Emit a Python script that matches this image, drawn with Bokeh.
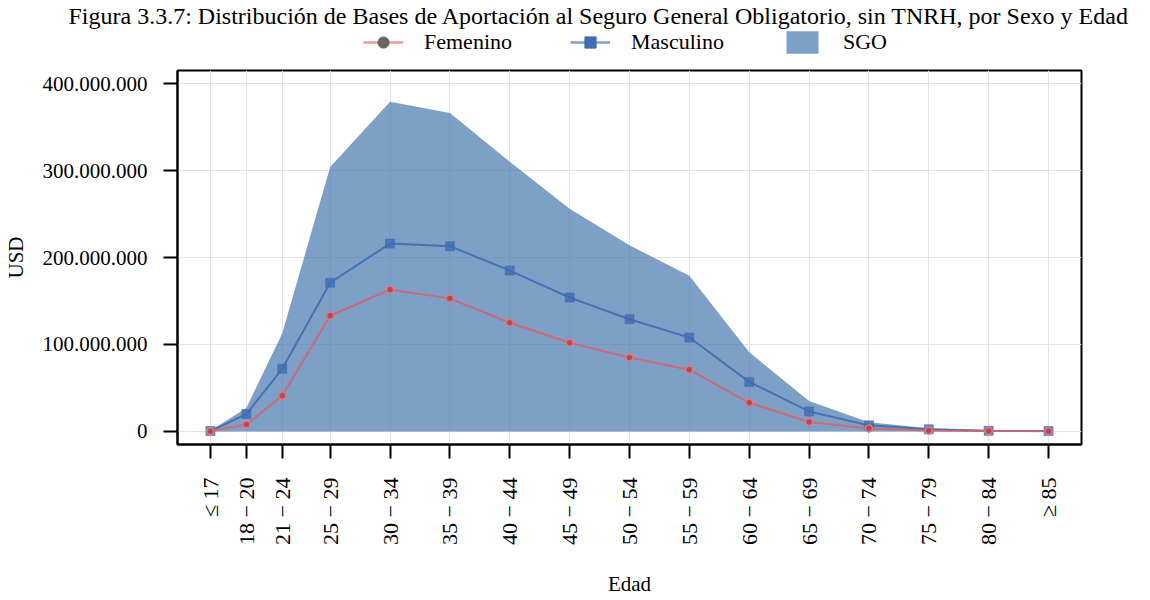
from math import pi
from bokeh.plotting import figure
from bokeh.layouts import column
from bokeh.models import FixedTicker, Range1d, Legend, LegendItem, Title
from bokeh.embed import file_html
from bokeh.resources import INLINE

# ---- data -------------------------------------------------------------
ages = [15, 18, 21, 25, 30, 35, 40, 45, 50, 55, 60, 65, 70, 75, 80, 85]
age_labels = ["≤ 17", "18 − 20", "21 − 24", "25 − 29", "30 − 34", "35 − 39",
              "40 − 44", "45 − 49", "50 − 54", "55 − 59", "60 − 64", "65 − 69",
              "70 − 74", "75 − 79", "80 − 84", "≥ 85"]
femenino = [0.3e6, 8e6, 41e6, 133e6, 163e6, 153e6, 125e6, 102e6, 85e6, 71e6,
            33e6, 11e6, 3.5e6, 1.2e6, 0.5e6, 0.3e6]
masculino = [0.5e6, 20e6, 72e6, 171e6, 216e6, 213e6, 185e6, 154e6, 129e6, 108e6,
             57e6, 23e6, 7e6, 2.5e6, 0.8e6, 0.4e6]
sgo = [0.8e6, 27e6, 113e6, 304e6, 379e6, 366e6, 310e6, 256e6, 214e6, 179e6,
       91e6, 35e6, 10.5e6, 3.7e6, 1.3e6, 0.7e6]
y_ticks = [0, 100000000, 200000000, 300000000, 400000000]
y_tick_labels = ["0", "100.000.000", "200.000.000", "300.000.000", "400.000.000"]

title_text = ("Figura 3.3.7: Distribución de Bases de Aportación al Seguro General "
              "Obligatorio, sin TNRH, por Sexo y Edad")

FONT = "Liberation Serif"
FS = "21px"

# ---- main chart -------------------------------------------------------
p = figure(frame_width=904, frame_height=374,
           min_border_left=169, min_border_right=61,
           min_border_top=4, min_border_bottom=140,
           output_backend="svg", toolbar_location=None,
           x_range=Range1d(12.25, 87.75), y_range=Range1d(-15e6, 415e6))

p.outline_line_color = "black"
p.outline_line_width = 2
p.background_fill_color = "white"
p.border_fill_color = "white"

p.xgrid.grid_line_color = "#e3e3e3"
p.ygrid.grid_line_color = "#e3e3e3"
p.xgrid.grid_line_width = 1
p.ygrid.grid_line_width = 1

xa = p.xaxis[0]
xa.ticker = FixedTicker(ticks=ages)
xa.major_label_overrides = {a: l for a, l in zip(ages, age_labels)}
xa.major_label_orientation = pi / 2
xa.axis_label = "Edad"
ya = p.yaxis[0]
ya.ticker = FixedTicker(ticks=y_ticks)
ya.major_label_overrides = {t: l for t, l in zip(y_ticks, y_tick_labels)}
ya.axis_label = "USD"

for ax in (xa, ya):
    ax.axis_line_width = 2
    ax.axis_line_color = "black"
    ax.major_tick_out = 14
    ax.major_tick_in = 0
    ax.major_tick_line_width = 2
    ax.major_tick_line_color = "black"
    ax.minor_tick_line_color = None
    ax.major_label_text_font = FONT
    ax.major_label_text_font_size = FS
    ax.major_label_text_color = "black"
    ax.axis_label_text_font = FONT
    ax.axis_label_text_font_size = FS
    ax.axis_label_text_font_style = "normal"
    ax.axis_label_text_color = "black"
xa.major_label_text_font_size = "22px"
xa.major_label_standoff = 19
ya.major_label_standoff = 16
xa.axis_label_standoff = 24
ya.axis_label_standoff = 12

p.varea(x=ages, y1=[0] * len(ages), y2=sgo, fill_color="#4777AF", fill_alpha=0.7)
p.line(ages, masculino, line_color="#3E6DB0", line_width=2, line_alpha=0.9)
p.scatter(ages, masculino, marker="square", size=9, fill_color="#3E6DB0",
          line_color="#3E6DB0", fill_alpha=0.8, line_alpha=0.6)
p.line(ages, femenino, line_color="#D8606A", line_width=2, line_alpha=0.85)
p.scatter(ages, femenino, marker="circle", size=7, fill_color="#B8404A",
          line_color="#E07880", fill_alpha=0.85, line_width=1.5)

# ---- header: title + legend ------------------------------------------
h = figure(width=1134, height=66, min_border=0, output_backend="svg",
           toolbar_location=None)
h.axis.visible = False
h.grid.visible = False
h.outline_line_color = None
h.background_fill_color = "white"
h.border_fill_color = "white"

lf_line = h.line(ages, femenino, line_color="#F29A9A", line_width=2.5,
                 visible=False)
lf_dot = h.scatter(ages, femenino, marker="circle", size=5,
                   fill_color="#666666", line_color="#666666", visible=False)
lm_line = h.line(ages, masculino, line_color="#7FA0CC", line_width=2.5,
                 visible=False)
lm_sq = h.scatter(ages, masculino, marker="square", size=7,
                  fill_color="#3E6DB0", line_color="#3E6DB0", visible=False)
ls_area = h.varea(x=ages, y1=[0] * len(ages), y2=sgo, fill_color="#7EA0C7",
                  visible=False)

legend = Legend(items=[
    LegendItem(label="Femenino", renderers=[lf_line, lf_dot]),
    LegendItem(label="Masculino", renderers=[lm_line, lm_sq]),
    LegendItem(label="SGO", renderers=[ls_area]),
], orientation="horizontal", location=(186, 10),
    glyph_width=40, glyph_height=28, label_standoff=21, spacing=58,
    padding=0, margin=0, border_line_color=None, background_fill_alpha=0,
    inactive_fill_alpha=0,
    label_text_font=FONT, label_text_font_size="22px", label_text_color="black")
h.add_layout(legend, "center")

h.add_layout(Title(text=title_text, text_font=FONT, text_font_size="24px",
                   text_font_style="normal", text_color="black",
                   align="left", offset=-109, standoff=0), "above")

layout = column(h, p, spacing=0)
open("out.html", "w").write(file_html(layout, INLINE))
